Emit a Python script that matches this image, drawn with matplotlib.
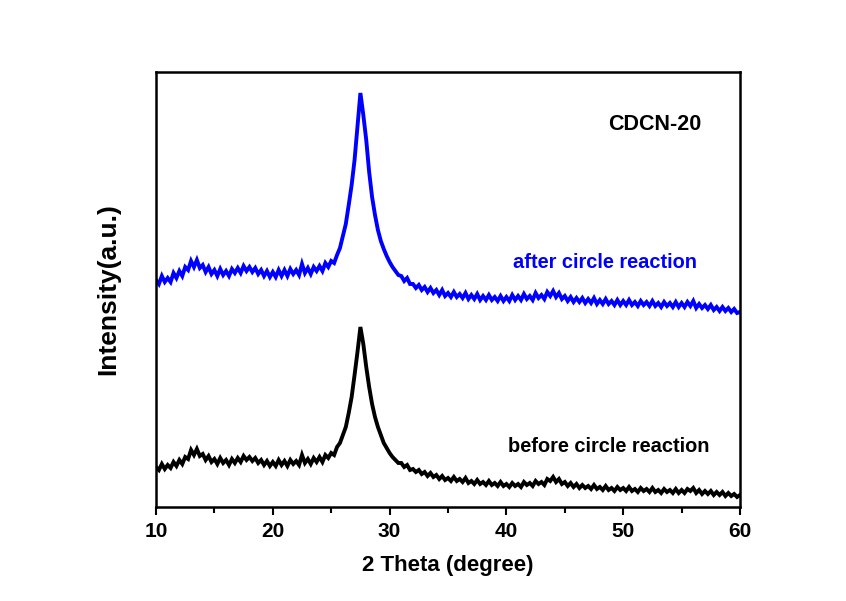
import numpy as np
import matplotlib
matplotlib.use("Agg")
import matplotlib.pyplot as plt
from matplotlib.ticker import MultipleLocator

# 2-theta grid, 0.25 degree step from 10 to 60
two_theta = np.arange(10.0, 60.001, 0.25)

before = [
    40, 37, 43, 38,  42, 39, 45, 41,  47, 43, 50, 48,  57, 52, 58, 51,
    53, 47, 51, 45,  48, 43, 49, 44,  47, 42, 48, 44,  49, 45, 51, 47,
    50, 46, 49, 44,  47, 42, 46, 41,  45, 41, 47, 42,  46, 41, 47, 43,
    46, 42, 52, 44,  48, 43, 49, 45,  50, 45, 52, 49,  54, 52, 60, 64,
    72, 80, 94, 110, 132, 155, 180, 163, 140, 120, 103, 90, 80, 72, 64, 59,
    54, 50, 47, 44,  44, 40, 42, 37,  38, 35, 37, 33,  35, 31, 34, 30,
    32, 28, 31, 27,  29, 26, 30, 26,  28, 25, 29, 24,  26, 23, 27, 23,
    25, 22, 26, 22,  24, 21, 25, 21,  23, 20, 24, 21,  23, 20, 25, 22,
    24, 21, 26, 23,  25, 22, 28, 26,  30, 25, 28, 23,  25, 21, 24, 20,
    23, 19, 22, 19,  21, 18, 22, 18,  20, 17, 21, 17,  19, 16, 20, 17,
    19, 16, 20, 16,  18, 15, 19, 16,  18, 15, 19, 15,  17, 14, 18, 15,
    17, 14, 18, 14,  17, 14, 18, 16,  19, 14, 17, 13,  16, 13, 16, 12,
    15, 12, 15, 11,  14, 11, 13, 10,  12,
]

after = [
    227, 223, 231, 225,  229, 225, 234, 229,  236, 231, 240, 237,  246, 240, 247, 239,
    242, 235, 240, 233,  237, 231, 238, 232,  236, 231, 238, 234,  239, 234, 241, 236,
    240, 235, 239, 233,  237, 231, 236, 230,  235, 230, 237, 231,  237, 231, 238, 233,
    237, 232, 243, 234,  239, 233, 240, 236,  241, 236, 244, 240,  246, 244, 252, 259,
    271, 283, 302, 322,  347, 380, 414, 392,  367, 335, 310, 292,  277, 266, 258, 251,
    245, 240, 236, 232,  231, 226, 229, 223,  223, 219, 222, 217,  220, 215, 219, 214,
    217, 212, 217, 211,  214, 210, 215, 210,  213, 209, 214, 208,  212, 208, 213, 207,
    211, 207, 212, 207,  210, 206, 211, 206,  210, 206, 212, 207,  211, 207, 213, 208,
    211, 207, 214, 209,  212, 208, 215, 211,  216, 210, 214, 208,  211, 206, 210, 205,
    209, 205, 209, 204,  208, 204, 209, 203,  207, 203, 208, 203,  206, 202, 207, 202,
    206, 202, 207, 202,  205, 201, 206, 202,  205, 201, 206, 201,  204, 200, 205, 201,
    204, 200, 205, 200,  204, 200, 205, 201,  206, 199, 203, 199,  202, 198, 202, 197,
    200, 196, 200, 196,  199, 195, 198, 194,  195,
]

x_ticks = [10, 20, 30, 40, 50, 60]

plt.rcParams['font.family'] = ['Liberation Sans', 'DejaVu Sans']
plt.rcParams['font.weight'] = 'bold'

fig = plt.figure(figsize=(8.46, 6.01), dpi=100)
ax = fig.add_axes([156/846, 1-507/601, 584/846, 435/601])

ax.plot(two_theta, before, color='black', lw=2.8, solid_joinstyle='miter')
ax.plot(two_theta, after, color='#0000ff', lw=2.8, solid_joinstyle='miter')

ax.set_xlim(10, 60)
ax.set_ylim(0, 435)
ax.set_xticks(x_ticks)
ax.xaxis.set_minor_locator(MultipleLocator(5))
ax.set_yticks([])
ax.tick_params(axis='x', which='major', direction='out', length=6, width=1.5,
               labelsize=15, pad=5)
ax.tick_params(axis='x', which='minor', direction='out', length=4, width=1.5)
for lab in ax.get_xticklabels():
    lab.set_fontweight('bold')
for sp in ax.spines.values():
    sp.set_linewidth(1.8)

ax.set_xlabel('2 Theta (degree)', fontsize=16, fontweight='bold', labelpad=10)
ax.set_ylabel('Intensity(a.u.)', fontsize=19, fontweight='bold', labelpad=26)

ax.text(48.7, 382, 'CDCN-20', fontsize=15.5, fontweight='bold', color='black', va='center')
ax.text(40.6, 245, 'after circle reaction', fontsize=14.4, fontweight='bold', color='#0000ff', va='center')
ax.text(40.1, 60, 'before circle reaction', fontsize=14.4, fontweight='bold', color='black', va='center')

fig.savefig('out.png', dpi=100)
